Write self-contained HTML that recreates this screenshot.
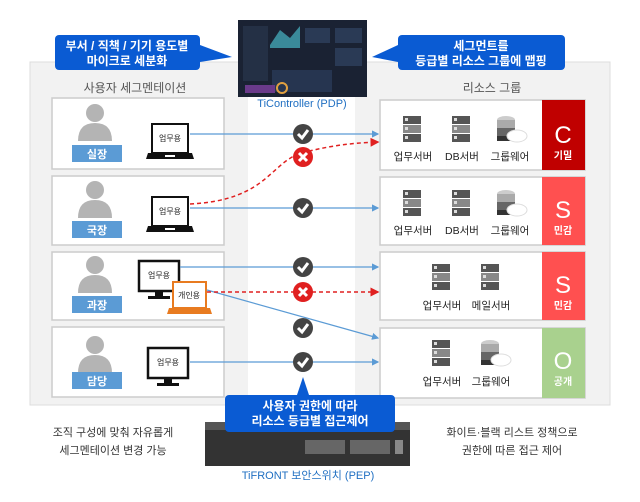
<!DOCTYPE html>
<html><head><meta charset="utf-8"><style>
body{margin:0;background:#fff}
svg text{font-family:"Liberation Sans","Noto Sans CJK KR",sans-serif}
</style></head><body>
<svg width="640" height="497" viewBox="0 0 640 497" xmlns="http://www.w3.org/2000/svg">
<defs>
<g id="person"><circle cx="0" cy="0" r="9" fill="#b4b4b4"/><path d="M-17,28 Q-17,10 0,10 Q17,10 17,28 Z" fill="#b4b4b4"/></g>
<g id="laptop"><rect x="0" y="0" width="36" height="29" fill="#fff" stroke="#111" stroke-width="2"/><path d="M-4,29 H40 L42,35 H-6 Z" fill="#111"/><rect x="13" y="31" width="10" height="2" fill="#fff"/></g>
<g id="monitor"><rect x="0" y="0" width="40" height="30" fill="#fff" stroke="#111" stroke-width="2.5"/><rect x="16" y="31" width="8" height="5" fill="#111"/><rect x="9" y="35" width="22" height="3" fill="#111"/></g>
<g id="srv"><rect x="0" y="0" width="18" height="8" fill="#555"/><rect x="0" y="9" width="18" height="8" fill="#888"/><rect x="0" y="18" width="18" height="8" fill="#555"/><rect x="2" y="2" width="3" height="3" fill="#ddd"/><rect x="2" y="11" width="3" height="3" fill="#ddd"/><rect x="2" y="20" width="3" height="3" fill="#ddd"/></g>
<g id="gw"><ellipse cx="9" cy="4" rx="9" ry="4" fill="#ccc"/><rect x="0" y="4" width="18" height="8" fill="#aaa"/><rect x="0" y="12" width="18" height="8" fill="#666"/><rect x="0" y="20" width="18" height="5" fill="#333"/><ellipse cx="20" cy="20" rx="10" ry="6" fill="#fff" stroke="#ddd"/></g>
<g id="chk"><circle r="10" fill="#444"/><path d="M-5,0 L-1,4 L5,-4" stroke="#fff" stroke-width="3" fill="none"/></g>
<g id="xx"><circle r="10" fill="#e02020"/><path d="M-4,-4 L4,4 M4,-4 L-4,4" stroke="#fff" stroke-width="3"/></g>
</defs>
<!-- outer panel -->
<rect x="30" y="62" width="580" height="343" fill="#f2f2f2" stroke="#ddd"/>
<rect x="248" y="62" width="107" height="343" fill="#fff"/>
<text x="135" y="92" font-size="12" fill="#555" text-anchor="middle">사용자 세그멘테이션</text>
<text x="492" y="92" font-size="12" fill="#555" text-anchor="middle">리소스 그룹</text>
<!-- top callouts -->
<rect x="55" y="35" width="145" height="35" rx="4" fill="#0a5bd3"/>
<path d="M200,45 L232,57 L200,62 Z" fill="#0a5bd3"/>
<text x="127" y="50" font-size="12" font-weight="bold" fill="#fff" text-anchor="middle">부서 / 직책 / 기기 용도별</text>
<text x="127" y="65" font-size="12" font-weight="bold" fill="#fff" text-anchor="middle">마이크로 세분화</text>
<rect x="398" y="35" width="167" height="35" rx="4" fill="#0a5bd3"/>
<path d="M398,45 L372,57 L398,62 Z" fill="#0a5bd3"/>
<text x="481" y="50" font-size="12" font-weight="bold" fill="#fff" text-anchor="middle">세그먼트를</text>
<text x="481" y="65" font-size="12" font-weight="bold" fill="#fff" text-anchor="middle">등급별 리소스 그룹에 맵핑</text>
<!-- screen -->
<rect x="238" y="20" width="129" height="77" fill="#1a2233"/>
<rect x="243" y="26" width="25" height="55" fill="#243045"/>
<path d="M270,45 L280,30 L290,38 L300,26 L300,48 L270,48Z" fill="#3a8a9a"/>
<rect x="305" y="28" width="25" height="15" fill="#2a3a55"/><rect x="335" y="28" width="27" height="15" fill="#2a3a55"/>
<rect x="335" y="48" width="27" height="18" fill="#2a3a55"/><rect x="272" y="70" width="60" height="22" fill="#263550"/>
<rect x="245" y="85" width="30" height="8" fill="#6a3a8a"/><circle cx="282" cy="88" r="5" fill="none" stroke="#e0a040" stroke-width="2"/>
<text x="302" y="107" font-size="11" fill="#1f6fc2" text-anchor="middle">TiController (PDP)</text>
<!-- left rows -->
<g fill="#fff" stroke="#ccc" stroke-width="1.5">
<rect x="52" y="98" width="172" height="71"/><rect x="52" y="176" width="172" height="69"/>
<rect x="52" y="252" width="172" height="68"/><rect x="52" y="327" width="172" height="70"/>
</g>
<use href="#person" x="95" y="113"/><use href="#person" x="95" y="190"/><use href="#person" x="95" y="265"/><use href="#person" x="95" y="345"/>
<g fill="#5b9bd5"><rect x="72" y="145" width="50" height="17"/><rect x="72" y="221" width="50" height="17"/><rect x="72" y="296" width="50" height="17"/><rect x="72" y="372" width="50" height="17"/></g>
<g font-size="11" font-weight="bold" fill="#fff" text-anchor="middle"><text x="97" y="158">실장</text><text x="97" y="234">국장</text><text x="97" y="309">과장</text><text x="97" y="385">담당</text></g>
<use href="#laptop" x="152" y="124"/><use href="#laptop" x="152" y="197"/>
<use href="#monitor" x="139" y="261"/><use href="#monitor" x="148" y="348"/>
<rect x="173" y="282" width="33" height="26" fill="#fff" stroke="#e87b20" stroke-width="2"/><path d="M169,308 H210 L212,314 H167Z" fill="#e87b20"/>
<g font-size="8" fill="#222" text-anchor="middle"><text x="170" y="141">업무용</text><text x="170" y="214">업무용</text><text x="159" y="278">업무용</text><text x="189" y="298">개인용</text><text x="168" y="365">업무용</text></g>
<!-- right rows -->
<g fill="#fff" stroke="#ccc" stroke-width="1.5">
<rect x="380" y="100" width="205" height="70"/><rect x="380" y="177" width="205" height="68"/>
<rect x="380" y="252" width="205" height="68"/><rect x="380" y="328" width="205" height="70"/>
</g>
<rect x="542" y="100" width="43" height="70" fill="#c00000"/><rect x="542" y="177" width="43" height="68" fill="#ff5050"/>
<rect x="542" y="252" width="43" height="68" fill="#ff5050"/><rect x="542" y="328" width="43" height="70" fill="#a9d18e"/>
<g fill="#fff" text-anchor="middle"><text x="563" y="143" font-size="24">C</text><text x="563" y="159" font-size="10" font-weight="bold">기밀</text>
<text x="563" y="218" font-size="24">S</text><text x="563" y="234" font-size="10" font-weight="bold">민감</text>
<text x="563" y="293" font-size="24">S</text><text x="563" y="309" font-size="10" font-weight="bold">민감</text>
<text x="563" y="369" font-size="24">O</text><text x="563" y="385" font-size="10" font-weight="bold">공개</text></g>
<use href="#srv" x="403" y="116"/><use href="#srv" x="452" y="116"/><use href="#gw" x="497" y="116"/>
<use href="#srv" x="403" y="190"/><use href="#srv" x="452" y="190"/><use href="#gw" x="497" y="190"/>
<use href="#srv" x="432" y="264"/><use href="#srv" x="481" y="264"/>
<use href="#srv" x="432" y="340"/><use href="#gw" x="481" y="340"/>
<g font-size="10.5" fill="#222" text-anchor="middle">
<text x="413" y="160">업무서버</text><text x="462" y="160">DB서버</text><text x="510" y="160">그룹웨어</text>
<text x="413" y="234">업무서버</text><text x="462" y="234">DB서버</text><text x="510" y="234">그룹웨어</text>
<text x="442" y="309">업무서버</text><text x="491" y="309">메일서버</text>
<text x="442" y="385">업무서버</text><text x="491" y="385">그룹웨어</text></g>
<!-- connectors -->
<defs><marker id="ab" markerWidth="6" markerHeight="6" refX="5" refY="3" orient="auto"><path d="M0,0 L6,3 L0,6Z" fill="#5b9bd5"/></marker>
<marker id="ar" markerWidth="6" markerHeight="6" refX="5" refY="3" orient="auto"><path d="M0,0 L6,3 L0,6Z" fill="#e02020"/></marker></defs>
<g stroke="#5b9bd5" stroke-width="1.2" fill="none" marker-end="url(#ab)">
<line x1="190" y1="134" x2="378" y2="134"/><line x1="190" y1="208" x2="378" y2="208"/>
<line x1="180" y1="267" x2="378" y2="267"/><line x1="207" y1="290" x2="378" y2="338"/>
<line x1="190" y1="362" x2="378" y2="362"/></g>
<g stroke="#e02020" stroke-width="1.5" stroke-dasharray="4,3" fill="none" marker-end="url(#ar)">
<path d="M190,204 C270,200 270,160 305,152 C330,146 350,143 378,142"/>
<line x1="207" y1="292" x2="378" y2="292"/></g>
<use href="#chk" x="303" y="134"/><use href="#xx" x="303" y="157"/><use href="#chk" x="303" y="208"/>
<use href="#chk" x="303" y="267"/><use href="#xx" x="303" y="292"/><use href="#chk" x="303" y="328"/><use href="#chk" x="303" y="362"/>
<!-- bottom -->
<rect x="205" y="428" width="205" height="38" fill="#333"/><rect x="205" y="422" width="205" height="8" fill="#555"/>
<rect x="305" y="440" width="40" height="14" fill="#666"/><rect x="350" y="440" width="40" height="14" fill="#666"/><rect x="395" y="440" width="8" height="14" fill="#888"/>
<rect x="225" y="395" width="170" height="37" rx="4" fill="#0a5bd3"/><path d="M297,395 L303,377 L309,395Z" fill="#0a5bd3"/>
<text x="310" y="410" font-size="12" font-weight="bold" fill="#fff" text-anchor="middle">사용자 권한에 따라</text>
<text x="310" y="425" font-size="12" font-weight="bold" fill="#fff" text-anchor="middle">리소스 등급별 접근제어</text>
<text x="308" y="479" font-size="11" fill="#1f6fc2" text-anchor="middle">TiFRONT 보안스위치 (PEP)</text>
<g font-size="11" fill="#333" text-anchor="middle"><text x="113" y="436">조직 구성에 맞춰 자유롭게</text><text x="113" y="454">세그멘테이션 변경 가능</text>
<text x="512" y="436">화이트·블랙 리스트 정책으로</text><text x="512" y="454">권한에 따른 접근 제어</text></g>
</svg>
</body></html>
